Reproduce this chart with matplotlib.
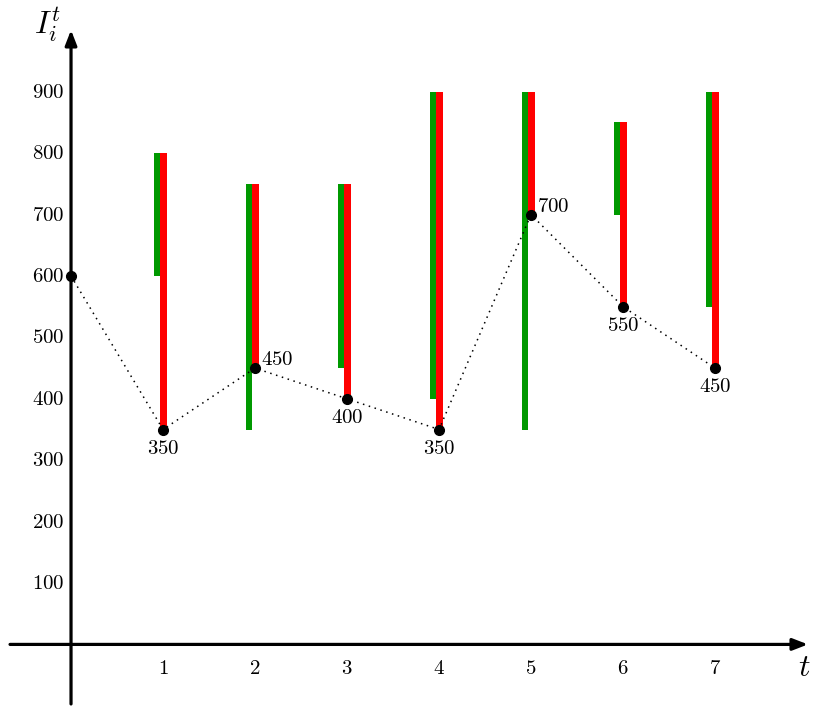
import numpy as np
import matplotlib
matplotlib.use("Agg")
import matplotlib.pyplot as plt

plt.rcParams['mathtext.fontset'] = 'cm'

# data
t = [0, 1, 2, 3, 4, 5, 6, 7]
level = [600, 350, 450, 400, 350, 700, 550, 450]
green_lo = [600, 350, 450, 400, 350, 700, 550]
green_hi = [800, 750, 750, 900, 900, 850, 900]
red_lo = [350, 450, 400, 350, 700, 550, 450]
red_hi = [800, 750, 750, 900, 900, 850, 900]
yticks = [100, 200, 300, 400, 500, 600, 700, 800, 900]
# where each point label sits: 'below' or 'right'
label_pos = [None, 'below', 'right', 'below', 'below', 'right', 'below', 'below']

fig = plt.figure(figsize=(8.13, 7.06), dpi=100)
ax = fig.add_axes([0, 0, 1, 1])
ax.set_xlim(-0.772, 8.065)
ax.set_ylim(-100.3, 1049.5)
ax.axis('off')

bw = 0.068
tt = np.array(t[1:])
ax.bar(tt - 0.063, np.array(green_hi) - np.array(green_lo), bottom=green_lo,
       width=bw, color='#009900', zorder=2)
ax.bar(tt + 0.005, np.array(red_hi) - np.array(red_lo), bottom=red_lo,
       width=bw, color='#ff0000', zorder=3)

ax.plot(t, level, color='black', linestyle=(0, (1, 3)), lw=1.1, zorder=4)
ax.plot(t, level, 'o', color='black', ms=7, zorder=5)

fs = 15
for x, v, p in zip(t, level, label_pos):
    if p == 'below':
        ax.annotate(r'$%d$' % v, (x, v), xytext=(0, -6), textcoords='offset points',
                    ha='center', va='top', fontsize=fs)
    elif p == 'right':
        ax.annotate(r'$%d$' % v, (x, v), xytext=(4, -1), textcoords='offset points',
                    ha='left', va='bottom', fontsize=fs)

# axes with arrows
arrow = dict(arrowstyle='-|>,head_length=0.9,head_width=0.35', lw=2.3,
             color='black', shrinkA=0, shrinkB=0)
ax.annotate('', xy=(8.01, 0), xytext=(-0.663, 0), arrowprops=arrow, zorder=6)
ax.annotate('', xy=(0, 1000.6), xytext=(0, -97), arrowprops=arrow, zorder=6)

for v in yticks:
    ax.text(-0.07, v, r'$%d$' % v, ha='right', va='center', fontsize=fs)
for x in t[1:]:
    ax.text(x, -38, r'$%d$' % x, ha='center', va='center', fontsize=fs)

ax.text(-0.26, 1008, r'$I_i^t$', ha='center', va='center', fontsize=23)
ax.text(7.97, -37, r'$t$', ha='center', va='center', fontsize=23)

fig.savefig('out.png', dpi=100)
